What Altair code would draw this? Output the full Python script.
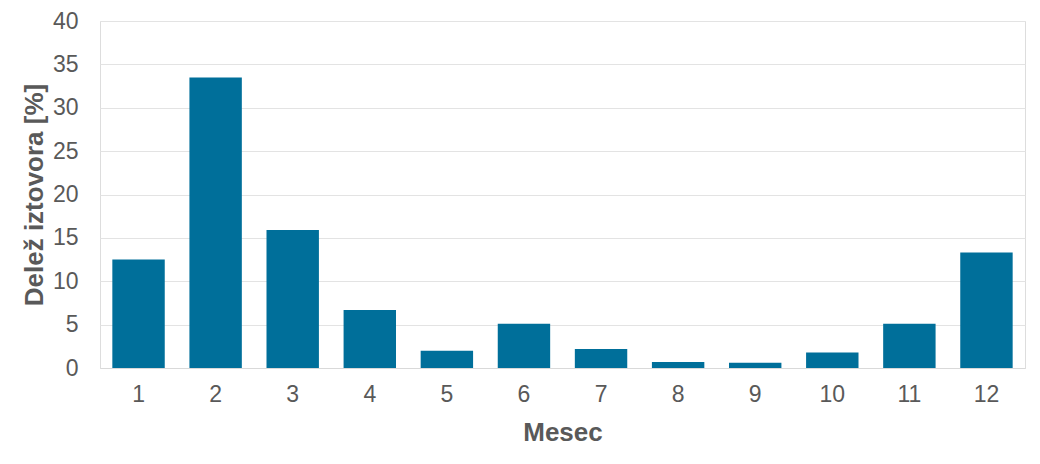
import altair as alt
import pandas as pd

months = [1, 2, 3, 4, 5, 6, 7, 8, 9, 10, 11, 12]
shares = [12.5, 33.5, 15.9, 6.7, 2.0, 5.1, 2.2, 0.7, 0.6, 1.8, 5.1, 13.3]
y_ticks = [0, 5, 10, 15, 20, 25, 30, 35, 40]

df = pd.DataFrame({"Mesec": months, "Delez": shares})

FONT = "Liberation Sans"
TXT = "#595959"

chart = (
    alt.Chart(df)
    .mark_bar(color="#006f9a")
    .encode(
        x=alt.X(
            "Mesec:O",
            sort=months,
            scale=alt.Scale(paddingInner=0.32, paddingOuter=0.16),
            axis=alt.Axis(
                title="Mesec",
                labelAngle=0,
                ticks=True,
                tickSize=15,
                tickColor="transparent",
                labelPadding=0,
                domainColor="#d9d9d9",
                domainWidth=1,
                labelFont=FONT,
                labelFontSize=23,
                labelColor=TXT,
                titleFont=FONT,
                titleFontSize=26,
                titleFontWeight="bold",
                titleColor=TXT,
                titleY=72,
                titleBaseline="alphabetic",
            ),
        ),
        y=alt.Y(
            "Delez:Q",
            scale=alt.Scale(domain=[0, 40], nice=False),
            axis=alt.Axis(
                title="Delež iztovora [%]",
                values=y_ticks,
                ticks=True,
                tickSize=22,
                tickColor="transparent",
                labelPadding=0,
                domain=False,
                gridColor="#e3e3e3",
                gridWidth=1,
                labelFont=FONT,
                labelFontSize=23,
                labelColor=TXT,
                titleFont=FONT,
                titleFontSize=26,
                titleFontWeight="bold",
                titleColor=TXT,
                titleX=-58,
                titleBaseline="alphabetic",
            ),
        ),
    )
    .properties(
        width=925,
        height=347,
        autosize=alt.AutoSizeParams(type="none"),
        padding={"left": 92, "top": 13, "right": 7, "bottom": 85},
    )
    .configure_view(stroke="#4ba3c7", strokeWidth=1)
    .configure(background="white")
)

chart.save("out.html", embed_options={"renderer": "svg", "actions": False})
